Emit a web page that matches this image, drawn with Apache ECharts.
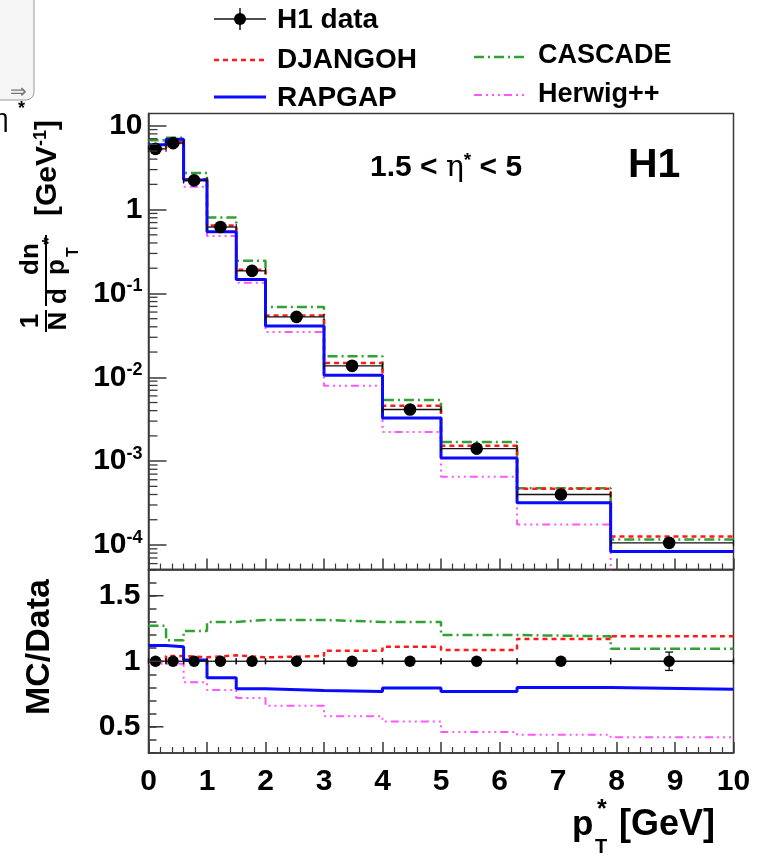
<!DOCTYPE html>
<html><head><meta charset="utf-8">
<script src="https://cdn.jsdelivr.net/npm/echarts@6/dist/echarts.min.js"></script>
<style>html,body{margin:0;padding:0;background:#fff}#c{width:774px;height:857px}</style>
</head><body><div id="c"></div>
<script>
// ---- data ----
const binEdges = [0, 0.3, 0.6, 1.0, 1.5, 2.0, 3.0, 4.0, 5.0, 6.3, 7.9, 10];
const dataX = [0.12, 0.42, 0.78, 1.23, 1.77, 2.53, 3.48, 4.47, 5.61, 7.05, 8.9];
const h1Data = [5.3, 6.2, 2.23, 0.62, 0.186, 0.0525, 0.0137, 0.00413, 0.00141, 0.00040, 0.000106];
const h1RatioErr = [0.01, 0.01, 0.01, 0.01, 0.01, 0.01, 0.01, 0.015, 0.015, 0.03, 0.07];
const djangoh = [5.3, 6.45, 2.30, 0.648, 0.192, 0.0546, 0.0148, 0.00458, 0.00153, 0.000468, 0.000126];
const rapgap  = [5.94, 6.88, 2.25, 0.543, 0.147, 0.0408, 0.01055, 0.00328, 0.00109, 0.00032, 0.0000834];
const cascade = [6.73, 7.19, 2.74, 0.806, 0.245, 0.069, 0.0178, 0.00537, 0.00169, 0.000476, 0.000116];
const herwig  = [5.19, 6.08, 1.87, 0.484, 0.134, 0.0347, 0.00795, 0.00223, 0.00065, 0.000176, 0.0000445];
const djangohRatio = [1.0, 1.04, 1.03, 1.045, 1.03, 1.04, 1.08, 1.11, 1.085, 1.17, 1.19];
const rapgapRatio  = [1.12, 1.11, 1.01, 0.875, 0.79, 0.777, 0.77, 0.795, 0.77, 0.80, 0.787];
const cascadeRatio = [1.27, 1.16, 1.23, 1.30, 1.315, 1.315, 1.30, 1.30, 1.20, 1.19, 1.095];
const herwigRatio  = [0.98, 0.98, 0.84, 0.78, 0.72, 0.66, 0.58, 0.54, 0.46, 0.44, 0.42];
const seriesNames = ['H1 data', 'DJANGOH', 'RAPGAP', 'CASCADE', 'Herwig++'];
const logMinorMultipliers = [2, 3, 4, 5, 6, 7, 8, 9];
const logDecades = [-5, -4, -3, -2, -1, 0, 1];
const ratioMajorTicks = [0.5, 1, 1.5];

// ---- styles ----
const FONT = 'Liberation Sans, Arial, Helvetica, sans-serif';
const FRAME = '#3a3a3a';
const sty = {
  'DJANGOH':  {color: '#ff1a1a', width: 2.5, type: [5, 4]},
  'RAPGAP':   {color: '#0a0aff', width: 3, type: 'solid'},
  'CASCADE':  {color: '#33a033', width: 2.5, type: [10, 4, 2, 4]},
  'Herwig++': {color: '#ff55ff', width: 2, type: [8, 4, 2, 4, 2, 4, 2, 4]}
};

function steps(vals) {
  const pts = [];
  vals.forEach((v, i) => { pts.push([binEdges[i], v]); pts.push([binEdges[i + 1], v]); });
  return pts;
}
function stepSeries(name, vals, gi) {
  const s = sty[name];
  return {type: 'line', name: name, xAxisIndex: gi, yAxisIndex: gi === 0 ? 0 : 1,
    data: steps(vals), showSymbol: false, symbol: 'none', clip: true, z: 3,
    lineStyle: {color: s.color, width: s.width, type: s.type}};
}

const logMinorVals = [];
logDecades.forEach(d => logMinorMultipliers.forEach(m => {
  const v = m * Math.pow(10, d);
  if (v > 5.1e-5 && v < 14) logMinorVals.push([0, v]);
}));

function fmtLog(v) {
  const l = Math.log10(v), e = Math.round(l);
  if (Math.abs(l - e) > 1e-6) return '';
  if (e === 1) return '{b|10}';
  if (e === 0) return '{b|1}';
  return '{b|10}{s|' + e + '}';
}

const chart = echarts.init(document.getElementById('c'), null, {renderer: 'canvas'});

const series = [
  stepSeries('Herwig++', herwig, 0),
  stepSeries('CASCADE', cascade, 0),
  stepSeries('DJANGOH', djangoh, 0),
  stepSeries('RAPGAP', rapgap, 0),
  stepSeries('Herwig++', herwigRatio, 1),
  stepSeries('CASCADE', cascadeRatio, 1),
  stepSeries('DJANGOH', djangohRatio, 1),
  stepSeries('RAPGAP', rapgapRatio, 1),
  { // data top
    type: 'custom', name: 'H1 data', xAxisIndex: 0, yAxisIndex: 0, z: 10,
    data: h1Data.map((v, i) => [dataX[i], v, binEdges[i], binEdges[i + 1]]),
    renderItem: (p, api) => {
      const c = api.coord([api.value(0), api.value(1)]);
      const a = api.coord([api.value(2), api.value(1)]);
      const b = api.coord([api.value(3), api.value(1)]);
      return {type: 'group', children: [
        {type: 'line', shape: {x1: a[0], y1: a[1], x2: b[0], y2: b[1]}, style: {stroke: '#111', lineWidth: 1.3}},
        {type: 'line', shape: {x1: a[0], y1: a[1] - 3, x2: a[0], y2: a[1] + 3}, style: {stroke: '#111', lineWidth: 1.2}},
        {type: 'line', shape: {x1: b[0], y1: b[1] - 3, x2: b[0], y2: b[1] + 3}, style: {stroke: '#111', lineWidth: 1.2}},
        {type: 'circle', shape: {cx: c[0], cy: c[1], r: 6.3}, style: {fill: '#000'}}
      ]};
    }
  },
  { // data ratio
    type: 'custom', name: 'H1 data ratio', xAxisIndex: 1, yAxisIndex: 1, z: 10,
    data: h1Data.map((v, i) => [dataX[i], 1, binEdges[i], binEdges[i + 1], h1RatioErr[i]]),
    renderItem: (p, api) => {
      const c = api.coord([api.value(0), api.value(1)]);
      const a = api.coord([api.value(2), api.value(1)]);
      const b = api.coord([api.value(3), api.value(1)]);
      const t = api.coord([api.value(0), api.value(1) + api.value(4)]);
      const d = api.coord([api.value(0), api.value(1) - api.value(4)]);
      const ch = [
        {type: 'line', shape: {x1: a[0], y1: a[1], x2: b[0], y2: b[1]}, style: {stroke: '#111', lineWidth: 1.3}},
        {type: 'line', shape: {x1: a[0], y1: a[1] - 3, x2: a[0], y2: a[1] + 3}, style: {stroke: '#111', lineWidth: 1.3}},
        {type: 'line', shape: {x1: b[0], y1: b[1] - 3, x2: b[0], y2: b[1] + 3}, style: {stroke: '#111', lineWidth: 1.3}},
        {type: 'line', shape: {x1: c[0], y1: t[1], x2: c[0], y2: d[1]}, style: {stroke: '#111', lineWidth: 1.3}}
      ];
      if (d[1] - t[1] > 12) {
        ch.push({type: 'line', shape: {x1: c[0] - 4, y1: t[1], x2: c[0] + 4, y2: t[1]}, style: {stroke: '#111', lineWidth: 1.3}});
        ch.push({type: 'line', shape: {x1: c[0] - 4, y1: d[1], x2: c[0] + 4, y2: d[1]}, style: {stroke: '#111', lineWidth: 1.3}});
      }
      ch.push({type: 'circle', shape: {cx: c[0], cy: c[1], r: 5.7}, style: {fill: '#000'}});
      return {type: 'group', children: ch};
    }
  },
  { // log minor ticks
    type: 'custom', xAxisIndex: 0, yAxisIndex: 0, z: 11, silent: true,
    data: logMinorVals,
    renderItem: (p, api) => {
      const c = api.coord([api.value(0), api.value(1)]);
      return {type: 'line', shape: {x1: c[0], y1: c[1], x2: c[0] + 9, y2: c[1]}, style: {stroke: FRAME, lineWidth: 1.3}};
    }
  },
  { // ratio major ticks
    type: 'custom', xAxisIndex: 1, yAxisIndex: 1, z: 11, silent: true,
    data: ratioMajorTicks.map(v => [0, v]),
    renderItem: (p, api) => {
      const c = api.coord([api.value(0), api.value(1)]);
      return {type: 'line', shape: {x1: c[0], y1: c[1], x2: c[0] + 15, y2: c[1]}, style: {stroke: FRAME, lineWidth: 1.5}};
    }
  }
];

// legend + texts via graphic
function legendLine(x1, x2, y, name) {
  const s = sty[name];
  return {type: 'line', shape: {x1: x1, y1: y, x2: x2, y2: y},
    style: {stroke: s.color, lineWidth: s.width, lineDash: s.type === 'solid' ? null : s.type}};
}
function txt(x, y, text, size, opt) {
  return {type: 'text', x: x, y: y, style: Object.assign({text: text, font: 'bold ' + size + 'px ' + FONT, fill: '#000', verticalAlign: 'middle', align: 'left'}, opt || {})};
}

const graphic = [
  // partial box remnant from neighbouring panel
  {type: 'rect', shape: {x: -20, y: -20, width: 54, height: 120, r: 8}, style: {fill: '#f5f5f5', stroke: '#9a9a9a', lineWidth: 1}},
  {type: 'text', x: 10, y: 92, style: {text: '⇒', font: '20px ' + FONT, fill: '#777', verticalAlign: 'middle'}},
  {type: 'text', x: -6, y: 120, style: {text: 'η', font: '26px ' + FONT, fill: '#000', verticalAlign: 'middle'}},
  {type: 'text', x: 18, y: 109, style: {text: '*', font: 'bold 18px ' + FONT, fill: '#000', verticalAlign: 'middle'}},
  // legend
  {type: 'line', shape: {x1: 214, y1: 19, x2: 266, y2: 19}, style: {stroke: '#111', lineWidth: 1.5}},
  {type: 'line', shape: {x1: 240, y1: 8, x2: 240, y2: 30}, style: {stroke: '#111', lineWidth: 1.5}},
  {type: 'circle', shape: {cx: 240, cy: 19, r: 6}, style: {fill: '#000'}},
  txt(277, 20, seriesNames[0], 28),
  legendLine(214, 266, 60, 'DJANGOH'), txt(277, 60, seriesNames[1], 28),
  legendLine(214, 266, 97, 'RAPGAP'), txt(277, 98, seriesNames[2], 28),
  legendLine(474, 526, 57, 'CASCADE'), txt(538, 56, seriesNames[3], 27),
  legendLine(474, 526, 95, 'Herwig++'), txt(538, 95, seriesNames[4], 27),
  // annotations
  {type: 'text', x: 370, y: 168, style: {rich: {
      a: {font: 'bold 30px ' + FONT, fill: '#000'},
      e: {font: '30px DejaVu Serif, serif', fill: '#000'},
      s: {font: 'bold 19px ' + FONT, fill: '#000', verticalAlign: 'top', padding: [0, 0, 14, 0]}
    }, text: '{a|1.5 < }{e|η}{s|*}{a| < 5}', verticalAlign: 'middle'}},
  txt(628, 166, 'H1', 41),
  // x title
  txt(572, 825, 'p', 35),
  txt(595, 847, 'T', 20),
  txt(597, 810, '*', 25),
  txt(619, 825, '[GeV]', 36),
  // ratio y title
  {type: 'text', x: 40, y: 647, rotation: Math.PI / 2, style: {text: 'MC/Data', font: 'bold 34px ' + FONT, fill: '#000', align: 'center', verticalAlign: 'middle'}},
  // top y title (rotated group)
  {type: 'group', x: 46, y: 335, rotation: Math.PI / 2, children: [
    txt(14, -15, '1', 26, {align: 'center'}),
    {type: 'line', shape: {x1: 3, y1: 0, x2: 25, y2: 0}, style: {stroke: '#000', lineWidth: 2}},
    txt(14, 13, 'N', 26, {align: 'center'}),
    txt(76, -15, 'dn', 26, {align: 'center'}),
    {type: 'line', shape: {x1: 29, y1: 0, x2: 100, y2: 0}, style: {stroke: '#000', lineWidth: 2}},
    txt(39, 13, 'd', 26, {align: 'center'}),
    txt(68, 11, 'p', 26, {align: 'center'}),
    txt(83, 28, 'T', 16, {align: 'center'}),
    txt(94, 4, '*', 19, {align: 'center'}),
    {type: 'text', x: 167, y: 2, style: {rich: {
        a: {font: 'bold 30px ' + FONT, fill: '#000'},
        s: {font: 'bold 18px ' + FONT, fill: '#000', verticalAlign: 'top', padding: [0, 0, 14, 0]}
      }, text: '{a|[GeV}{s|-1}{a|]}', align: 'center', verticalAlign: 'middle'}}
  ]}
];

const axisLineStyle = {color: FRAME, width: 1.5};
const option = {
  animation: false,
  backgroundColor: '#fff',
  grid: [
    {left: 148.5, top: 113.5, width: 585, height: 456, show: true, borderColor: FRAME, borderWidth: 1.5, backgroundColor: 'transparent'},
    {left: 148.5, top: 569.5, width: 585, height: 183.5, show: true, borderColor: FRAME, borderWidth: 1.5, backgroundColor: 'transparent'}
  ],
  xAxis: [
    {gridIndex: 0, type: 'value', min: 0, max: 10, interval: 1,
      axisLine: {show: true, onZero: false, lineStyle: axisLineStyle},
      axisTick: {show: true, inside: true, length: 11, lineStyle: axisLineStyle},
      minorTick: {show: true, splitNumber: 5, length: 6, lineStyle: {color: FRAME, width: 1.2}},
      axisLabel: {show: false}, splitLine: {show: false}},
    {gridIndex: 1, type: 'value', min: 0, max: 10, interval: 1,
      axisLine: {show: true, onZero: false, lineStyle: axisLineStyle},
      axisTick: {show: true, inside: true, length: 11, lineStyle: axisLineStyle},
      minorTick: {show: true, splitNumber: 5, length: 6, lineStyle: {color: FRAME, width: 1.2}},
      axisLabel: {show: true, margin: 14, color: '#000', fontFamily: FONT, fontWeight: 'bold', fontSize: 30,
        formatter: v => String(Math.round(v))},
      splitLine: {show: false}}
  ],
  yAxis: [
    {gridIndex: 0, type: 'log', logBase: 10, min: 5.1e-5, max: 14,
      axisLine: {show: true, lineStyle: axisLineStyle},
      axisTick: {show: true, inside: true, length: 18, lineStyle: axisLineStyle},
      splitLine: {show: false},
      axisLabel: {show: true, showMinLabel: false, showMaxLabel: false, margin: 6, formatter: fmtLog,
        rich: {
          b: {fontFamily: FONT, fontWeight: 'bold', fontSize: 30, color: '#000'},
          s: {fontFamily: FONT, fontWeight: 'bold', fontSize: 18, color: '#000', verticalAlign: 'top', padding: [0, 0, 14, 0]}
        }}},
    {gridIndex: 1, type: 'value', min: 0.3, max: 1.7, interval: 0.1,
      axisLine: {show: true, lineStyle: axisLineStyle},
      axisTick: {show: true, inside: true, length: 8, lineStyle: axisLineStyle},
      splitLine: {show: false},
      axisLabel: {show: true, margin: 8, color: '#000', fontFamily: FONT, fontWeight: 'bold', fontSize: 30,
        formatter: v => {
          for (const m of ratioMajorTicks) if (Math.abs(v - m) < 1e-6) return String(m);
          return '';
        }}}
  ],
  graphic: graphic,
  series: series
};
chart.setOption(option);
</script>
</body></html>
